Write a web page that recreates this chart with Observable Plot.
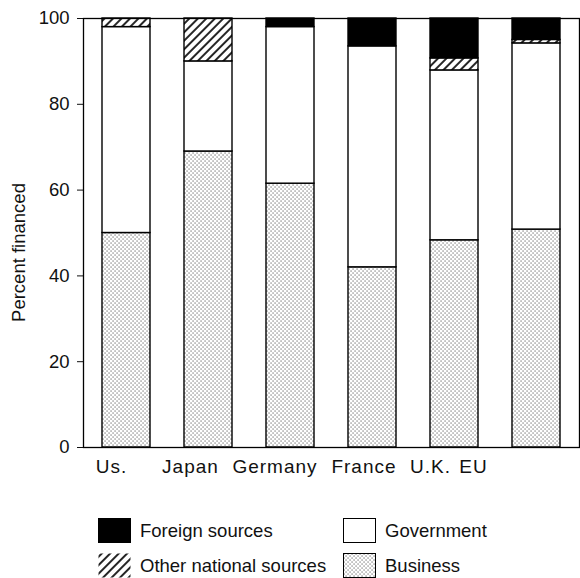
<!DOCTYPE html>
<html>
<head>
<meta charset="utf-8">
<script src="https://cdn.jsdelivr.net/npm/d3@7"></script>
<script src="https://cdn.jsdelivr.net/npm/@observablehq/plot@0.6"></script>
<style>
  html, body { margin: 0; padding: 0; background: white; }
  body { width: 580px; height: 578px; overflow: hidden; font-family: "Liberation Sans", Arial, Helvetica, sans-serif; color: #111; }
  #chart svg { display: block; }
  .legend { display: grid; grid-template-columns: 245px auto; row-gap: 10px; padding-left: 98px; margin-top: 28px; }
  .item { display: flex; align-items: center; height: 25px; font-size: 18.5px; }
  .item svg { margin-right: 9px; flex: none; }
</style>
</head>
<body>
<svg width="0" height="0" style="position:absolute">
  <defs>
    <pattern id="stipple" width="4" height="4" patternUnits="userSpaceOnUse">
      <rect width="4" height="4" fill="white"/>
      <rect x="0.5" y="0.5" width="1.1" height="1.1" fill="#555"/>
      <rect x="2.5" y="2.5" width="1.1" height="1.1" fill="#555"/>
    </pattern>
    <pattern id="hatch" width="6" height="6" patternUnits="userSpaceOnUse" patternTransform="rotate(45)">
      <rect width="6" height="6" fill="white"/>
      <line x1="3" y1="0" x2="3" y2="6" stroke="black" stroke-width="1.7"/>
    </pattern>
  </defs>
</svg>
<div id="chart"></div>
<div class="legend" id="legend"></div>
<script>
// ---- data ----
const countries = ["Us.", "Japan", "Germany", "France", "U.K.", "EU"];
const business = [50, 69, 61.5, 42, 48.3, 50.8];
const government = [48, 21, 36.5, 51.5, 39.6, 43.4];
const otherNational = [2, 10, 0, 0, 2.8, 0.8];
const foreign = [0, 0, 2, 6.5, 9.3, 5];
const sources = ["Business", "Government", "Other national sources", "Foreign sources"];
const yTicks = [0, 20, 40, 60, 80, 100];

// ---- styles ----
const fillOf = {
  "Business": "url(#stipple)",
  "Government": "white",
  "Other national sources": "url(#hatch)",
  "Foreign sources": "black"
};
const labelShift = [-15, -18, -15.5, -8.5, -24, -63];

const seriesValues = [business, government, otherNational, foreign];
const rows = countries.flatMap((c, i) =>
  sources.map((s, k) => ({country: c, source: s, value: seriesValues[k][i]}))
).filter(d => d.value > 0);

const labelMarks = countries.map((c, i) =>
  Plot.text([c], {x: d => d, text: d => d, frameAnchor: "bottom", dy: 25, dx: labelShift[i], fontSize: 19, fill: "#111"})
);

const chart = Plot.plot({
  width: 580,
  height: 490,
  marginLeft: 83,
  marginRight: 1,
  marginTop: 18,
  marginBottom: 43,
  style: {fontFamily: "'Liberation Sans', Arial, Helvetica, sans-serif", fontSize: "18.5px", color: "#111", background: "white", overflow: "visible"},
  x: {domain: countries, paddingInner: 0.41, paddingOuter: 0.205, axis: null},
  y: {domain: [0, 100], ticks: yTicks, tickSize: 6, tickPadding: 8, label: null},
  color: {type: "identity"},
  marks: [
    Plot.barY(rows, {x: "country", y: "value", z: "source", fill: d => fillOf[d.source], stroke: "black", strokeWidth: 1.4}),
    Plot.frame({stroke: "black", strokeWidth: 1.3}),
    ...labelMarks,
    Plot.text(["Percent financed"], {frameAnchor: "left", textAnchor: "middle", text: d => d, rotate: -90, dx: -64, dy: 19.5, fontSize: 18.5, fill: "#111"})
  ]
});
document.getElementById("chart").appendChild(chart);

// letter spacing for category labels
chart.querySelectorAll('g[aria-label="text"]').forEach((g, i) => {
  if (i < countries.length) g.querySelectorAll("text").forEach(t => t.style.letterSpacing = "1px");
});

// ---- legend ----
const legendOrder = ["Foreign sources", "Government", "Other national sources", "Business"];
const legend = document.getElementById("legend");
legendOrder.forEach(s => {
  const item = document.createElement("div");
  item.className = "item";
  const border = s === "Other national sources" ? "none" : "black";
  item.innerHTML = `<svg width="33" height="25"><rect x="0.5" y="0.5" width="32" height="24" fill="${fillOf[s]}" stroke="${border}" stroke-width="1"/></svg><span>${s}</span>`;
  legend.appendChild(item);
});
</script>
</body>
</html>
